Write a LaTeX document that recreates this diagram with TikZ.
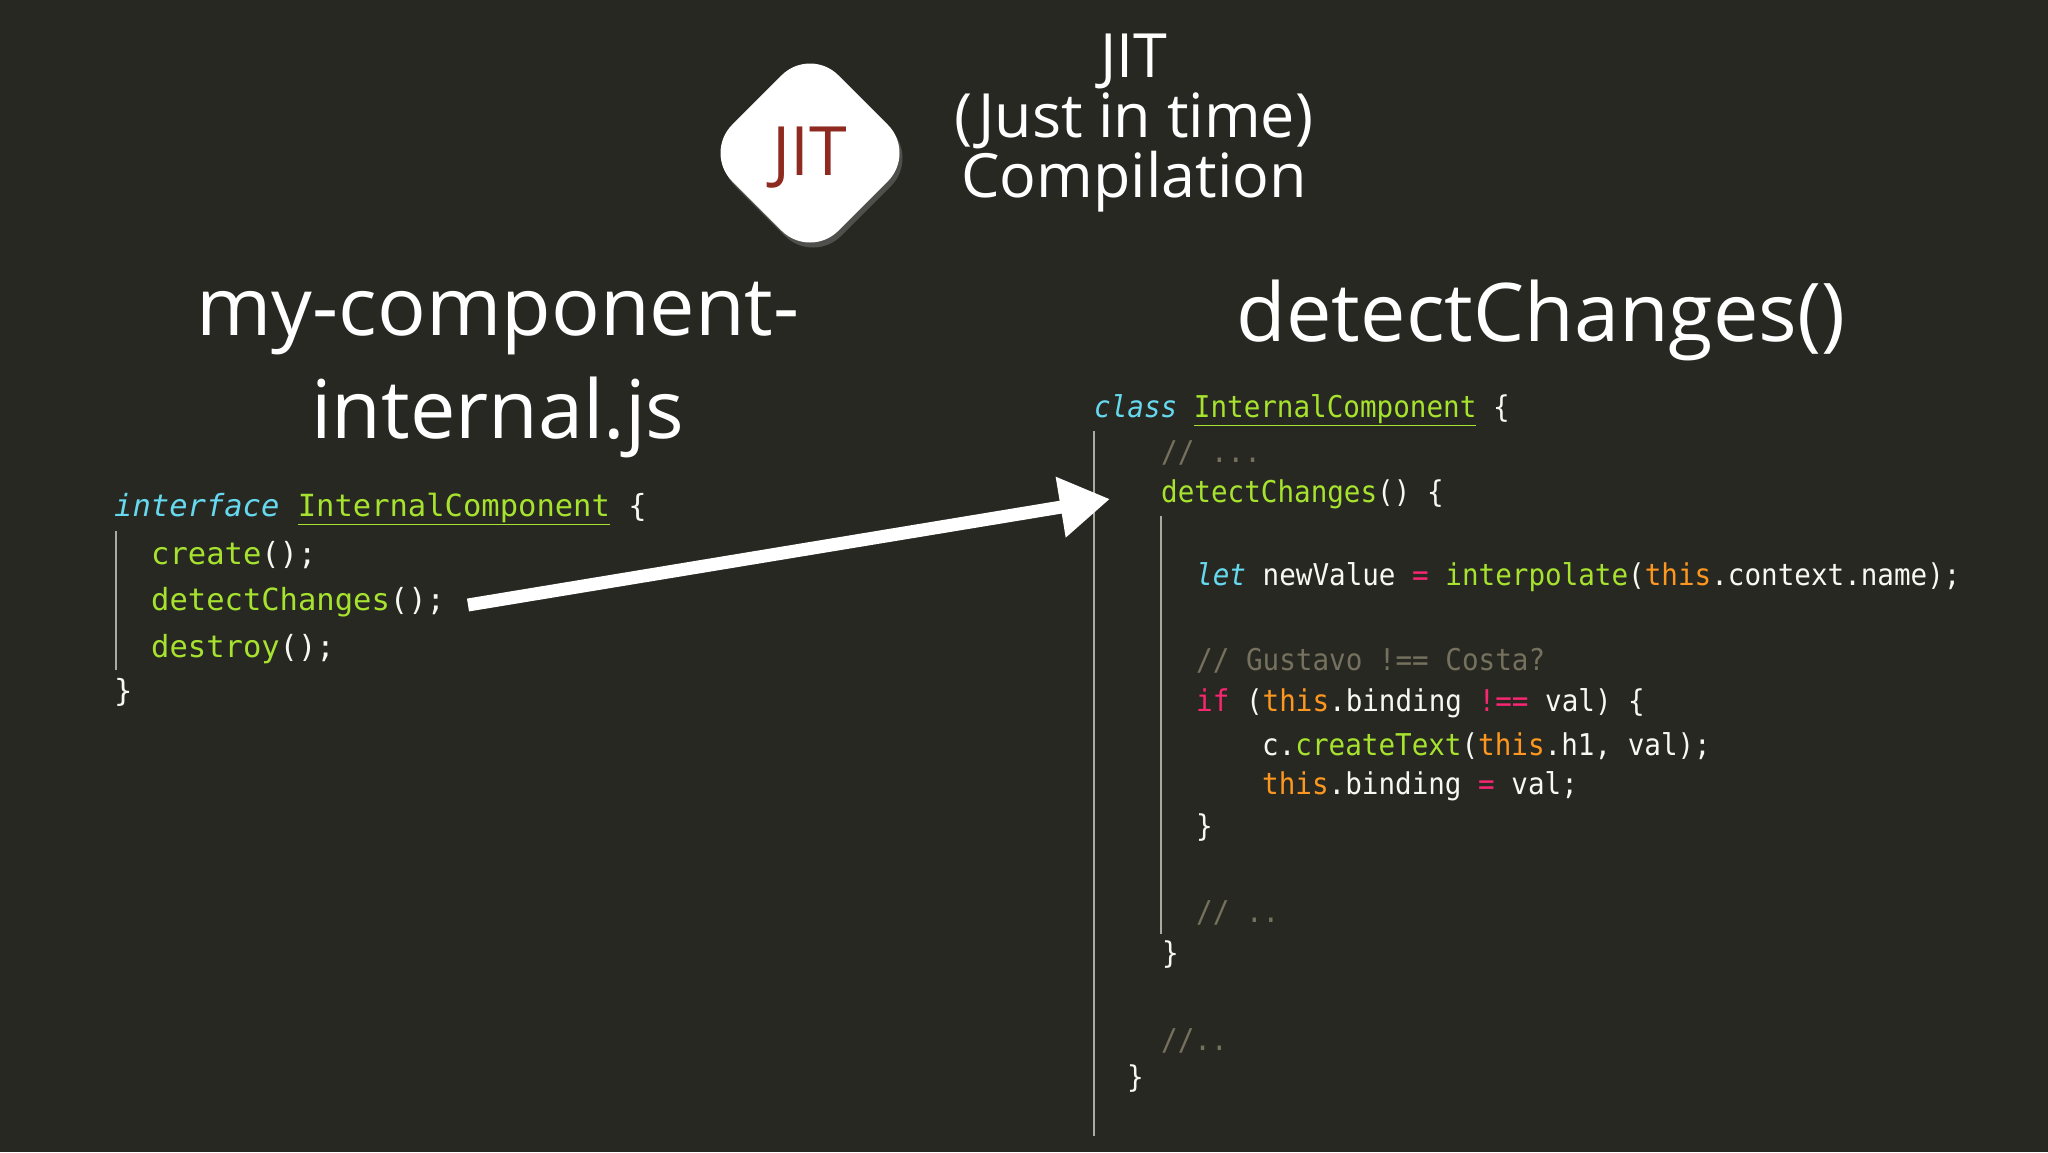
\documentclass[tikz,border=0pt]{standalone}
\usepackage{fontspec}
\setmainfont{Open Sans}
\newfontfamily\codeL{DejaVu Sans Mono}
\newfontfamily\codeR[FakeStretch=0.92]{DejaVu Sans Mono}
\usetikzlibrary{shadows,arrows.meta}
\definecolor{bg}{HTML}{272822}
\definecolor{mcy}{HTML}{66D9EF}
\definecolor{mgr}{HTML}{A6E22E}
\definecolor{mor}{HTML}{FD971F}
\definecolor{mpk}{HTML}{F92672}
\definecolor{mcm}{HTML}{75715E}
\definecolor{mwh}{HTML}{F8F8F2}
\definecolor{jitred}{HTML}{8E2A20}
\newcommand{\kcy}[1]{\textcolor{mcy}{\itshape #1}}
\newcommand{\kgr}[1]{\textcolor{mgr}{#1}}
\newcommand{\kor}[1]{\textcolor{mor}{#1}}
\newcommand{\kpk}[1]{\textcolor{mpk}{#1}}
\newcommand{\kcm}[1]{\textcolor{mcm}{#1}}
\tikzset{
  title/.style={text=white,font=\fontsize{61}{60}\selectfont,align=center},
  big/.style={text=white,font=\fontsize{81}{90}\selectfont},
  cl/.style={anchor=west,inner sep=0pt,text=mwh,font=\codeL\fontsize{30.5}{36}\selectfont},
  cr/.style={anchor=west,inner sep=0pt,text=mwh,font=\codeR\fontsize{30}{36}\selectfont},
  guide/.style={draw=mcm!60,line width=1.5pt},
}
\begin{document}
\begin{tikzpicture}[x=1pt,y=-1pt]
\fill[bg] (0,0) rectangle (2048,1152);
\useasboundingbox (0,0) rectangle (2048,1152);
% JIT diamond
\node[fill=white,rotate=45,minimum size=150,rounded corners=40,drop shadow={opacity=0.45,shadow xshift=3pt,shadow yshift=-5pt}] (dia) at (810,153) {};
\node[text=jitred,font=\fontsize{68}{70}\selectfont] (jit) at (810,158) {JIT};
\node[title] (ttl) at (1134,123) {JIT\\(Just in time)\\Compilation};
\node[big] (h1) at (498,319) {my-component-};
\node[big] (h2) at (498,417) {internal.js};
\node[big] (h3) at (1541,320) {detectChanges()};
% left code
\draw[guide] (116,531) -- (116,670);
\node[cl] (l1) at (114,509) {\kcy{interface} \kgr{\underline{InternalComponent}} \{};
\node[cl] (l2) at (151,555) {\kgr{create}();};
\node[cl] (l3) at (151,602) {\kgr{detectChanges}();};
\node[cl] (l4) at (151,649) {\kgr{destroy}();};
\node[cl] (l5) at (114,692) {\}};
% right code
\draw[guide] (1094,431) -- (1094,1136);
\draw[guide] (1161,516) -- (1161,934);
\node[cr] (r1) at (1094,410) {\kcy{class} \kgr{\underline{InternalComponent}} \{};
\node[cr] (r2) at (1161,453) {\kcm{// ...}};
\node[cr] (r3) at (1161,494) {\kgr{detectChanges}() \{};
\node[cr] (r4) at (1196,577) {\kcy{let} newValue \kpk{=} \kgr{interpolate}(\kor{this}.context.name);};
\node[cr] (r5) at (1196,661) {\kcm{// Gustavo !== Costa?}};
\node[cr] (r6) at (1196,703) {\kpk{if} (\kor{this}.binding \kpk{!==} val) \{};
\node[cr] (r7) at (1262,746) {c.\kgr{createText}(\kor{this}.h1, val);};
\node[cr] (r8) at (1262,786) {\kor{this}.binding \kpk{=} val;};
\node[cr] (r9) at (1196,828) {\}};
\node[cr] (r10) at (1196,913) {\kcm{// ..}};
\node[cr] (r11) at (1162,955) {\}};
\node[cr] (r12) at (1161,1041) {\kcm{//..}};
\node[cr] (r13) at (1127,1079) {\}};
% arrow
\coordinate (as) at (468,605);
\coordinate (ae) at (1110,499);
\draw[white,line width=13pt,-{Triangle[length=50pt,width=58pt]}] (as) -- (ae);
\end{tikzpicture}
\end{document}
